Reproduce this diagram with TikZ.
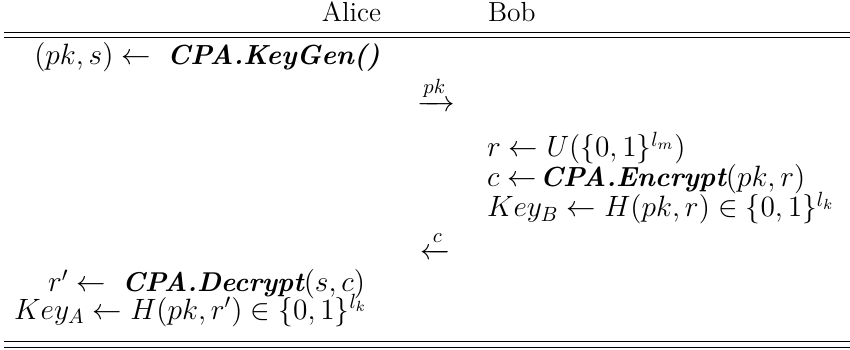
\RequirePackage{fix-cm}
\documentclass[tikz,border=0pt]{standalone}
\usepackage{amsmath}
\usepackage{amssymb}
\usepackage{mathtools}
\newcommand{\bfit}[2][13.6pt]{\text{\fontsize{#1}{16pt}\selectfont\bfseries\itshape #2}}
\begin{document}
\begin{tikzpicture}[x=0.5pt,y=0.5pt,
  every node/.style={inner sep=0pt,outer sep=0pt,font=\fontsize{14.7pt}{18pt}\selectfont},
  headtxt/.style={font=\fontsize{13.8pt}{16pt}\selectfont},
  head/.style={headtxt,anchor=base},
  bobhead/.style={headtxt,anchor=base west},
  alicerow/.style={anchor=base east},
  bobrow/.style={anchor=base west},
  msg/.style={anchor=base},
  rulel/.style={line width=0.45pt}]
\useasboundingbox (0,0) rectangle (850,-349);
% header
\node[head] (alice) at (351.5,-21.7) {Alice};
\node[bobhead] (bob) at (488,-21.7) {Bob};
% rules
\coordinate (t1l) at (4,-32.5); \coordinate (t1r) at (850,-32.5);
\coordinate (t2l) at (4,-37.5); \coordinate (t2r) at (850,-37.5);
\coordinate (b1l) at (4,-341.5); \coordinate (b1r) at (850,-341.5);
\coordinate (b2l) at (4,-347); \coordinate (b2r) at (850,-347);
\draw[rulel] (t1l) -- (t1r);
\draw[rulel] (t2l) -- (t2r);
\draw[rulel] (b1l) -- (b1r);
\draw[rulel] (b2l) -- (b2r);
% Alice rows
\node[alicerow] (a1) at (380,-64) {$(pk,s) \gets\; \bfit[13.8pt]{CPA.KeyGen()}$};
\node[msg] (m1) at (436,-111.5) {$\xrightarrow{pk}$};
\node[bobrow] (b1) at (487,-156.7) {$r \gets U(\{0,1\}^{l_m})$};
\node[bobrow] (b2) at (487,-186.7) {$c \gets\!\bfit[13.8pt]{CPA.Encrypt}(pk,r)$};
\node[bobrow] (b3) at (487,-216.7) {$Key_B \gets H(pk,r) \in \{0,1\}^{l_k}$};
\node[msg] (m2) at (435.5,-259.2) {$\xleftarrow{c}$};
\node[alicerow] (a2) at (365,-291.7) {$r' \gets\; \bfit{CPA.Decrypt}(s,c)$};
\node[alicerow] (a3) at (367,-319) {$Key_A \gets H(pk,r') \in \{0,1\}^{l_k}$};
\end{tikzpicture}
\end{document}
